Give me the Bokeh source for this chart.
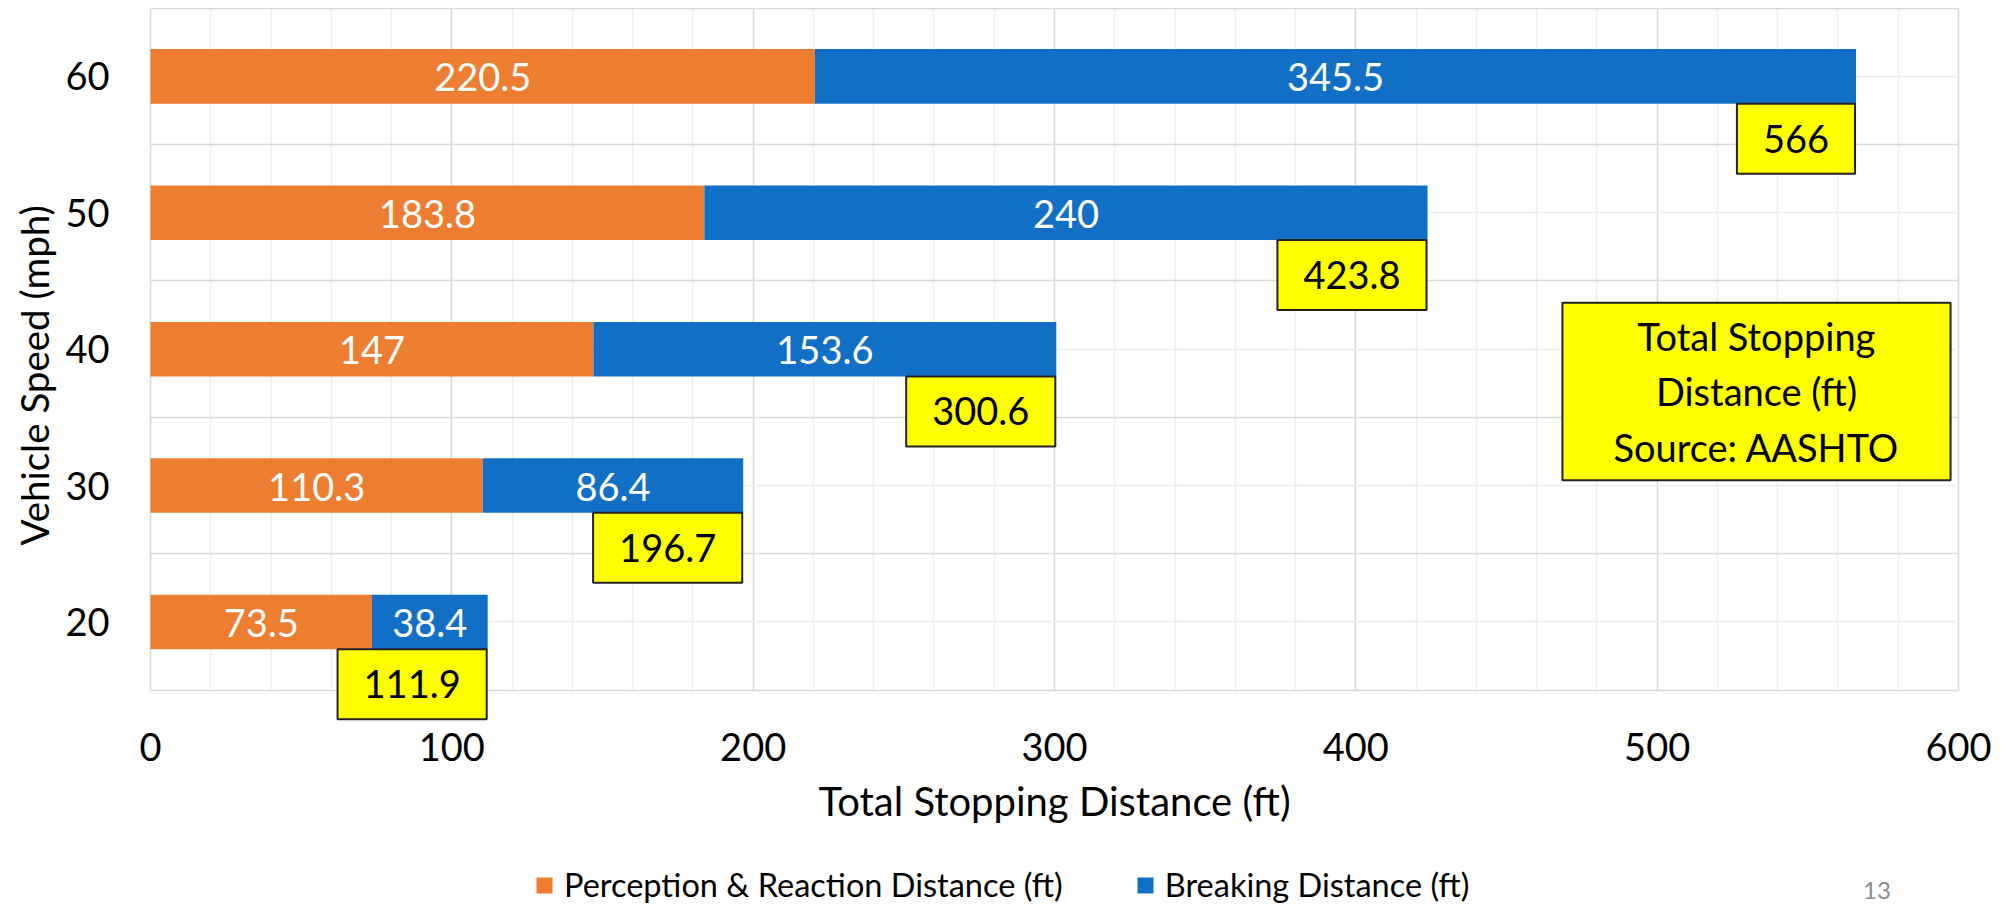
from bokeh.plotting import figure
from bokeh.models import (ColumnDataSource, FixedTicker, SingleIntervalTicker, Range1d,
                          Legend, LegendItem, Label, Grid, Title)
from bokeh.core.properties import value
from bokeh.embed import file_html
from bokeh.resources import INLINE

# ---- data ----
speeds = [20, 30, 40, 50, 60]
perception = [73.5, 110.3, 147, 183.8, 220.5]
breaking = [38.4, 86.4, 153.6, 240, 345.5]
totals = [111.9, 196.7, 300.6, 423.8, 566]
x_ticks_interval = 100
series_names = ["Perception & Reaction Distance (ft)", "Breaking Distance (ft)"]
x_title = "Total Stopping Distance (ft)"
y_title = "Vehicle Speed (mph)"
note_text = "Total Stopping\nDistance (ft)\nSource: AASHTO"
page_number = "13"

FONT = "Lato"
ORANGE = "#ED7D31"
BLUE = "#1170C6"
YELLOW = "#FFFF00"
GRID_MAJOR = "#d9d9d9"
GRID_MINOR = "#eeeeee"
BAR_H = 4

# layout geometry (pixels)
W, H = 1991, 905
TOP = 7
PLOT_LEFT = 150          # canvas x of value 0
PLOT_W = 1808            # width of the 0..600 area
PAD_L = 15               # frame room left of 0 (for the "0" tick label)
LEFT = PLOT_LEFT - PAD_L
X_LO, X_HI = 0, 600
PXX = PLOT_W / (X_HI - X_LO)
x_start = X_LO - PAD_L / PXX
x_end = X_HI + (W - PLOT_LEFT - PLOT_W) / PXX

FRAME_H = H - TOP
PLOT_H = 682
Y_LO, Y_HI = 15, 65
PXY = PLOT_H / (Y_HI - Y_LO)
y_end = Y_HI + 0.05
y_start = y_end - FRAME_H / PXY


def fmt(v):
    return f"{v:g}"


src = ColumnDataSource(dict(
    speed=speeds,
    perception=perception,
    brk_end=[p + b for p, b in zip(perception, breaking)],
    total=totals,
    p_mid=[p / 2 for p in perception],
    b_mid=[p + b / 2 for p, b in zip(perception, breaking)],
    p_txt=[fmt(v) for v in perception],
    b_txt=[fmt(v) for v in breaking],
    t_txt=[fmt(v) for v in totals],
    box_y=[s - BAR_H / 2 for s in speeds],
))

p = figure(width=W, height=H, x_range=Range1d(x_start, x_end), y_range=Range1d(y_start, y_end),
           output_backend="svg", toolbar_location=None,
           min_border_left=LEFT, min_border_right=0, min_border_top=TOP,
           min_border_bottom=0)
p.background_fill_color = "white"
p.outline_line_color = None

# x axis drawn at the bottom of the category area
p.xaxis.fixed_location = Y_LO
p.xaxis.bounds = (X_LO, X_HI)
p.xaxis.ticker = SingleIntervalTicker(interval=x_ticks_interval, num_minor_ticks=5)
p.xaxis.major_tick_out = 0
p.xaxis.major_tick_in = 0
p.xaxis.minor_tick_out = 0
p.xaxis.minor_tick_in = 0
p.xaxis.axis_line_color = GRID_MAJOR
p.xaxis.axis_line_width = 1.5
p.xaxis.major_label_text_font = FONT
p.xaxis.major_label_text_font_size = "38px"
p.xaxis.major_label_text_color = "black"
p.xaxis.major_label_standoff = 43
p.xaxis.axis_label = x_title
p.xaxis.axis_label_text_font = FONT
p.xaxis.axis_label_text_font_size = "40px"
p.xaxis.axis_label_text_font_style = "normal"
p.xaxis.axis_label_text_color = "black"
p.xaxis.axis_label_standoff = 12

# y axis (tick labels only; its title is a side title so it can be offset)
p.yaxis.ticker = FixedTicker(ticks=speeds)
p.yaxis.major_tick_out = 0
p.yaxis.major_tick_in = 0
p.yaxis.minor_tick_out = 0
p.yaxis.minor_tick_in = 0
p.yaxis.axis_line_color = None
p.yaxis.major_label_text_font = FONT
p.yaxis.major_label_text_font_size = "38px"
p.yaxis.major_label_text_color = "black"
p.yaxis.major_label_standoff = 41 - PAD_L

p.add_layout(Title(text=y_title, align="left", offset=360, standoff=12,
                   text_font=FONT, text_font_size="38.5px", text_font_style="normal",
                   text_color="black"), "left")

# grids
p.xgrid.grid_line_color = GRID_MAJOR
p.xgrid.grid_line_width = 1.5
p.xgrid.minor_grid_line_color = GRID_MINOR
p.xgrid.minor_grid_line_width = 1.5
p.ygrid.ticker = FixedTicker(ticks=[s + 5 for s in speeds], minor_ticks=speeds)
p.ygrid.grid_line_color = GRID_MAJOR
p.ygrid.grid_line_width = 1.5
p.ygrid.minor_grid_line_color = GRID_MINOR
p.ygrid.minor_grid_line_width = 1.5
if "cross_bounds" in Grid.properties():
    for g in p.xgrid:
        g.cross_bounds = (Y_LO, Y_HI)
    for g in p.ygrid:
        g.cross_bounds = (X_LO, X_HI)
        g.bounds = (Y_LO, Y_HI)

# bars
r1 = p.hbar(y="speed", left=0, right="perception", height=BAR_H, fill_color=ORANGE,
            line_color=None, source=src)
r2 = p.hbar(y="speed", left="perception", right="brk_end", height=BAR_H, fill_color=BLUE,
            line_color=None, source=src)

# segment labels
p.text(x="p_mid", y="speed", text="p_txt", text_align="center", text_baseline="middle",
       text_color="white", text_font=value(FONT), text_font_size="38px", y_offset=1,
       source=src)
p.text(x="b_mid", y="speed", text="b_txt", text_align="center", text_baseline="middle",
       text_color="white", text_font=value(FONT), text_font_size="38px", y_offset=1,
       source=src)

# total labels (yellow boxes), drawn above the axis line
p.text(x="total", y="box_y", text="t_txt", text_align="right", text_baseline="top",
       text_color="black", text_font=value(FONT), text_font_size="38px",
       background_fill_color=YELLOW, border_line_color="#222222", border_line_width=2,
       padding=(26, 21), x_offset=-1, source=src, level="overlay")

# legend
legend = Legend(items=[LegendItem(label=series_names[0], renderers=[r1]),
                       LegendItem(label=series_names[1], renderers=[r2])],
                orientation="horizontal", location=(384 + PAD_L, 1),
                label_text_font=FONT, label_text_font_size="32.5px", label_text_color="black",
                glyph_width=20, glyph_height=20, label_standoff=10, spacing=72,
                padding=0, margin=0, border_line_color=None, background_fill_alpha=0)
p.add_layout(legend, "center")

# note box
p.add_layout(Label(x=1606 + PAD_L, y=514, x_units="screen", y_units="screen", text=note_text,
                   text_align="center", text_baseline="middle", text_line_height=1.21,
                   text_font=FONT, text_font_size="38px", text_color="black",
                   background_fill_color=YELLOW, border_line_color="#222222",
                   border_line_width=2, padding=(51, 10)))

# page number
p.add_layout(Label(x=1726.5 + PAD_L, y=15.5, x_units="screen", y_units="screen",
                   text=page_number, text_align="center", text_baseline="middle",
                   text_font=FONT, text_font_size="24px", text_color="#8c8c8c"))

open("out.html", "w").write(file_html(p, INLINE))
